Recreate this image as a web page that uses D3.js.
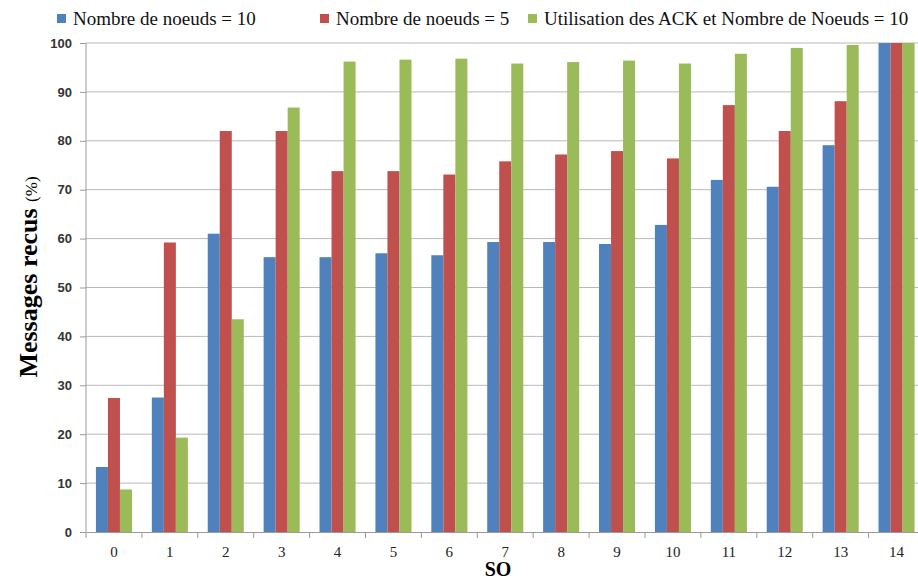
<!DOCTYPE html>
<html><head><meta charset="utf-8">
<script src="https://cdn.jsdelivr.net/npm/d3@7"></script>
<style>body{margin:0;background:#fff}svg{display:block}</style>
</head><body>
<svg id="c" width="918" height="579"></svg>
<script>
const categories = ["0","1","2","3","4","5","6","7","8","9","10","11","12","13","14"];
const seriesNames = ["Nombre de noeuds = 10","Nombre de noeuds = 5","Utilisation des ACK et Nombre de Noeuds = 10"];
const nodes10 = [13.3,27.5,61.0,56.2,56.2,57.0,56.6,59.3,59.3,58.9,62.8,72.0,70.6,79.1,100];
const nodes5  = [27.4,59.2,82.0,82.0,73.8,73.8,73.1,75.8,77.2,77.9,76.4,87.3,82.0,88.1,100];
const ack10   = [8.7,19.3,43.5,86.8,96.2,96.6,96.8,95.8,96.1,96.4,95.8,97.8,99.0,99.6,100];
const yTicks = [0,10,20,30,40,50,60,70,80,90,100];
const colors = ["#4F81BD","#C0504D","#9BBB59"];
const series = [nodes10, nodes5, ack10];

(function(){
const svg = d3.select("#c");
const pLeft = 86, pTop = 43, pBottom = 532, step = 55.9;
const pRight = pLeft + step*categories.length;
const serif = "'Liberation Serif', 'Times New Roman', serif";

const x = d3.scaleBand().domain(categories).range([pLeft, pRight]).paddingInner(0.355).paddingOuter(0.1775);
const xs = d3.scaleBand().domain(d3.range(3)).range([0, x.bandwidth()]);
const y = d3.scaleLinear().domain([0,100]).range([pBottom, pTop]);

svg.append("g").selectAll("line").data(yTicks.filter(d=>d>0)).join("line")
  .attr("x1", pLeft).attr("x2", pRight).attr("y1", d=>y(d)).attr("y2", d=>y(d))
  .attr("stroke", "#b8b8b8").attr("stroke-width", 1);

const g = svg.append("g");
series.forEach((s, i) => {
  g.append("g").selectAll("rect").data(s).join("rect")
    .attr("x", (d, j) => x(categories[j]) + xs(i))
    .attr("y", d => y(d))
    .attr("width", xs.bandwidth())
    .attr("height", d => pBottom - y(d))
    .attr("fill", colors[i]);
});

const yAxis = svg.append("g").attr("transform", `translate(${pLeft},0)`)
  .call(d3.axisLeft(y).tickValues(yTicks).tickSize(6).tickPadding(8));
yAxis.select(".domain").attr("stroke", "#999").attr("d", `M0,${pBottom}V${pTop}`);
yAxis.selectAll(".tick line").attr("stroke", "#999");
yAxis.selectAll("text").style("font-family", "'Liberation Sans', Arial, sans-serif").style("font-size", "13px")
  .style("font-weight", "bold").attr("fill", "#333");

const xAxis = svg.append("g").attr("transform", `translate(0,${pBottom})`)
  .call(d3.axisBottom(x).tickSize(0).tickPadding(14));
xAxis.select(".domain").attr("stroke", "#999");
xAxis.selectAll("text").style("font-family", serif).style("font-size", "15px")
  .attr("fill", "#222");
svg.append("g").selectAll("line").data(d3.range(categories.length+1)).join("line")
  .attr("x1", i => pLeft + i*step).attr("x2", i => pLeft + i*step)
  .attr("y1", pBottom).attr("y2", pBottom+6).attr("stroke", "#999");

svg.append("text").attr("x", 498).attr("y", 576).attr("text-anchor", "middle")
  .style("font-family", serif).style("font-weight", "bold").style("font-size", "20px")
  .text("SO");
const yl = svg.append("text").attr("transform", "translate(37,277) rotate(-90)")
  .attr("text-anchor", "middle").style("font-family", serif);
yl.append("tspan").style("font-weight", "bold").style("font-size", "26px").text("Messages recus ");
yl.append("tspan").style("font-size", "17px").text("(%)");

const legX = [57, 320, 528];
seriesNames.forEach((n, i) => {
  svg.append("rect").attr("x", legX[i]).attr("y", 14).attr("width", 9).attr("height", 9).attr("fill", colors[i]);
  svg.append("text").attr("x", legX[i]+16).attr("y", 25).style("font-family", serif)
    .style("font-size", "19px").attr("fill", "#111").text(n);
});
})();
</script>
</body></html>
